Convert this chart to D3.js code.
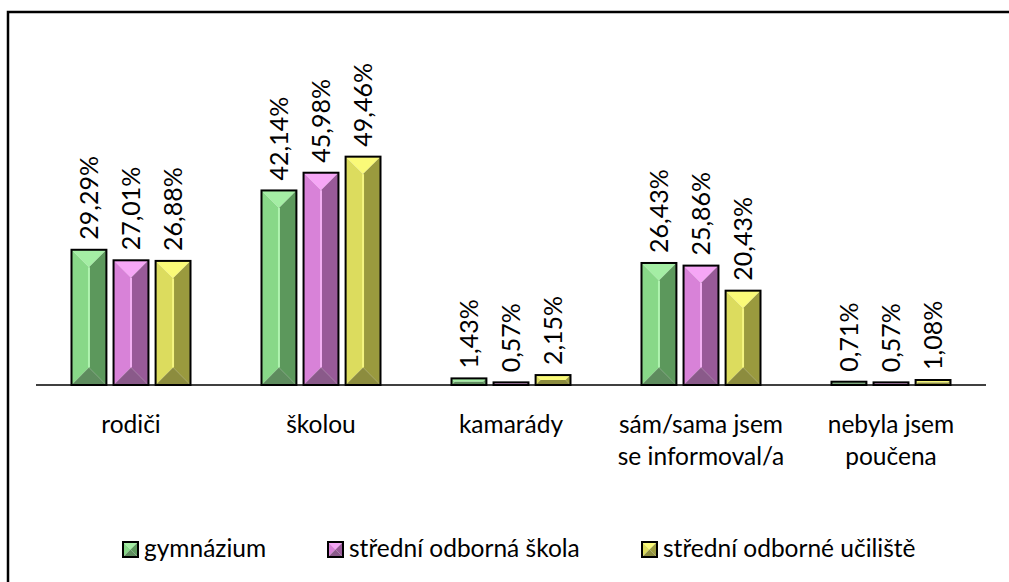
<!DOCTYPE html>
<html>
<head>
<meta charset="utf-8">
<script src="https://cdn.jsdelivr.net/npm/d3@7"></script>
<style>
  body { margin: 0; background: #fff; }
  text { font-family: Lato, "Open Sans", sans-serif; fill: #000; }
</style>
</head>
<body>
<div id="chart"></div>
<script>
// Data
var categories = ["rodiči", "školou", "kamarády", "sám/sama jsem|se informoval/a", "nebyla jsem|poučena"];
var seriesNames = ["gymnázium", "střední odborná škola", "střední odborné učiliště"];
var gymnazium = [29.29, 42.14, 1.43, 26.43, 0.71];
var stredniSkola = [27.01, 45.98, 0.57, 25.86, 0.57];
var uciliste = [26.88, 49.46, 2.15, 20.43, 1.08];
var seriesValues = [gymnazium, stredniSkola, uciliste];

// bevel colours per series: top, left, right, bottom, ridge
var palettes = [
    { top: "#a4eea4", left: "#88d888", right: "#5c985c", bottom: "#5e8c5e", ridge: "#b0f4b0" },
    { top: "#f6a6f6", left: "#d882d8", right: "#985a98", bottom: "#8a5a8a", ridge: "#f2b0f2" },
    { top: "#fafa78", left: "#dcdc5e", right: "#9a9a3e", bottom: "#8c8c3e", ridge: "#f4f480" }
];

var svgWidth = 1009;
var svgHeight = 582;

var svg = d3.select("#chart")
            .append("svg")
            .attr("width", svgWidth)
            .attr("height", svgHeight);

// chart frame (right and bottom edges fall outside the picture)
svg.append("rect")
   .attr("x", 8).attr("y", 12)
   .attr("width", 1100).attr("height", 700)
   .attr("fill", "#fff")
   .attr("stroke", "#000")
   .attr("stroke-width", 2.5);

var x0 = d3.scaleBand()
    .domain(d3.range(categories.length))
    .range([36, 986])
    .paddingInner(0)
    .paddingOuter(0);

var x1 = d3.scaleBand()
    .domain(d3.range(seriesNames.length))
    .range([35.5, 190 - 35.5])
    .paddingInner(0.17);

var y = d3.scaleLinear()
    .domain([0, 60])
    .range([385, 108]);

// draws one bevelled box into group g
function bevel(g, bx, by, bw, bh, pal) {
    var d = Math.min(bw, bh) / 2;
    var xa = bx, xb = bx + bw, ya = by, yb = by + bh;
    var pts = function(arr) { return arr.map(p => p.join(",")).join(" "); };
    g.append("polygon").attr("points", pts([[xa, ya], [xb, ya], [xb - d, ya + d], [xa + d, ya + d]])).attr("fill", pal.top);
    g.append("polygon").attr("points", pts([[xa, ya], [xa + d, ya + d], [xa + d, yb - d], [xa, yb]])).attr("fill", pal.left);
    g.append("polygon").attr("points", pts([[xb, ya], [xb, yb], [xb - d, yb - d], [xb - d, ya + d]])).attr("fill", pal.right);
    g.append("polygon").attr("points", pts([[xa, yb], [xa + d, yb - d], [xb - d, yb - d], [xb, yb]])).attr("fill", pal.bottom);
    if (bh > bw) {
        g.append("line")
         .attr("x1", xa + d).attr("x2", xa + d)
         .attr("y1", ya + d).attr("y2", yb - d)
         .attr("stroke", pal.ridge).attr("stroke-width", 2);
    }
    g.append("rect")
     .attr("x", xa).attr("y", ya)
     .attr("width", bw).attr("height", bh)
     .attr("fill", "none")
     .attr("stroke", "#000")
     .attr("stroke-width", 2);
}

var chartGroup = svg.append("g");

categories.forEach(function(cat, ci) {
    seriesValues.forEach(function(vals, si) {
        var v = vals[ci];
        var bx = x0(ci) + x1(si);
        var bw = x1.bandwidth();
        var top = y(v);
        var g = chartGroup.append("g");
        bevel(g, bx, top, bw, Math.max(y(0) - top, 1), palettes[si]);

        // rotated value label
        var lx = bx + bw / 2;
        var ly = top - 10;
        chartGroup.append("text")
            .attr("transform", `translate(${lx},${ly}) rotate(-90)`)
            .attr("dy", "0.35em")
            .attr("text-anchor", "start")
            .style("font-size", "25px")
            .text(d3.format(".2f")(v).replace(".", ",") + "%");
    });
});

// category axis line
chartGroup.append("line")
    .attr("x1", 36).attr("x2", 986)
    .attr("y1", y(0)).attr("y2", y(0))
    .attr("stroke", "#000")
    .attr("stroke-width", 1.5);

// category labels (two lines where needed)
categories.forEach(function(cat, ci) {
    var lines = cat.split("|");
    var t = chartGroup.append("text")
        .attr("text-anchor", "middle")
        .style("font-size", "24.5px");
    lines.forEach(function(line, li) {
        t.append("tspan")
         .attr("x", x0(ci) + x0.bandwidth() / 2)
         .attr("y", 433 + li * 32)
         .text(line);
    });
});

// legend
var legendX = [123, 328, 642];
seriesNames.forEach(function(name, si) {
    var g = svg.append("g");
    bevel(g, legendX[si], 542, 15, 15, palettes[si]);
    g.append("text")
     .attr("x", legendX[si] + 21)
     .attr("y", 557)
     .style("font-size", "24.5px")
     .text(name);
});
</script>
</body>
</html>
